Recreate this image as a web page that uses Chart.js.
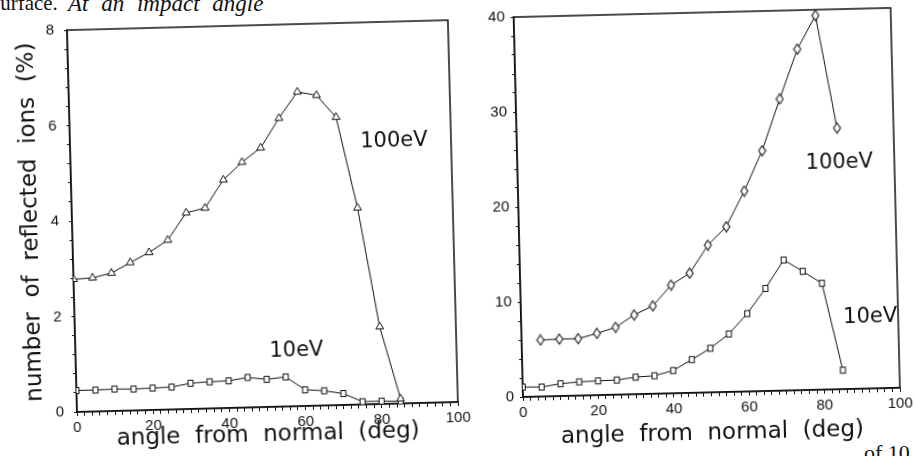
<!DOCTYPE html>
<html>
<head>
<meta charset="utf-8">
<script src="https://cdn.jsdelivr.net/npm/chart.js@4.4.1/dist/chart.umd.min.js"></script>
<style>
  body { margin: 0; background: #fff; width: 915px; height: 456px; overflow: hidden; position: relative; }
  .panel { position: absolute; top: 0; height: 456px; }
  #leftPanel { left: 0; width: 480px; transform-origin: 77px 412px; transform: rotate(-1.5deg); }
  #rightPanel { left: 465px; width: 450px; transform-origin: 58px 397px; transform: rotate(-1.4deg); }
  .scan { position: absolute; font-family: "Liberation Serif", serif; white-space: pre; color: #111; }
</style>
</head>
<body>
<div class="scan" style="left:-8px; top:-7px; font-size:21px; line-height:21px;">surface.</div>
<div class="scan" style="left:68px; top:-8px; font-size:23px; line-height:23px; font-style:italic; word-spacing:7px;">At an impact angle</div>
<div class="scan" style="left:864px; top:442px; font-size:22px; line-height:22px;">of 10 eV</div>
<div class="panel" id="leftPanel"><canvas id="leftChart" width="480" height="456"></canvas></div>
<div class="panel" id="rightPanel"><canvas id="rightChart" width="450" height="456"></canvas></div>
<script>
// angles (deg)
var angles = [0, 5, 10, 15, 20, 25, 30, 35, 40, 45, 50, 55, 60, 65, 70, 75, 80, 85];
var anglesFrom5 = [5, 10, 15, 20, 25, 30, 35, 40, 45, 50, 55, 60, 65, 70, 75, 80, 85];

// left panel: reflected ions (%)
var left100eV = [2.78, 2.8, 2.89, 3.1, 3.3, 3.55, 4.11, 4.2, 4.78, 5.14, 5.43, 6.04, 6.58, 6.5, 6.03, 4.12, 1.62, 0.1];
var left10eV = [0.45, 0.45, 0.46, 0.45, 0.46, 0.47, 0.54, 0.56, 0.57, 0.63, 0.58, 0.62, 0.34, 0.31, 0.24, 0.06, 0.06, 0.05];

// right panel
var right100eV = [5.95, 6.0, 6.0, 6.5, 7.1, 8.35, 9.25, 11.4, 12.6, 15.5, 17.4, 21.1, 25.3, 30.7, 35.9, 39.4, 27.5];
var right10eV = [1.05, 1.0, 1.3, 1.45, 1.5, 1.55, 1.8, 1.9, 2.4, 3.5, 4.65, 6.1, 8.2, 10.8, 13.75, 12.5, 11.2, 2.0];

var xTickLabels = [0, 20, 40, 60, 80, 100];
var leftYTickLabels = [0, 2, 4, 6, 8];
var rightYTickLabels = [0, 10, 20, 30, 40];

var INK = "#111";
var TITLE_FONT = "'DejaVu Sans', sans-serif";
var TICK_FONT = "'Liberation Sans', sans-serif";

function pts(xs, ys) {
  return xs.map(function (x, i) { return { x: x, y: ys[i] }; });
}

// open markers drawn on small canvases
function diamond(w, h) {
  var c = document.createElement("canvas");
  c.width = w + 2; c.height = h + 2;
  var g = c.getContext("2d");
  g.beginPath();
  g.moveTo(c.width / 2, 1);
  g.lineTo(c.width - 1, c.height / 2);
  g.lineTo(c.width / 2, c.height - 1);
  g.lineTo(1, c.height / 2);
  g.closePath();
  g.fillStyle = "#fff"; g.fill();
  g.strokeStyle = INK; g.lineWidth = 1.1; g.stroke();
  return c;
}
function box(w, h) {
  var c = document.createElement("canvas");
  c.width = w + 2; c.height = h + 2;
  var g = c.getContext("2d");
  g.fillStyle = "#fff"; g.fillRect(1, 1, w, h);
  g.strokeStyle = INK; g.lineWidth = 1; g.strokeRect(1.5, 1.5, w - 1, h - 1);
  return c;
}

// frame round the plot + curve labels
var framePlugin = {
  id: "frameAndLabels",
  beforeDatasetsDraw: function (chart) {
    var a = chart.chartArea, ctx = chart.ctx;
    ctx.save();
    ctx.strokeStyle = INK;
    ctx.lineWidth = 1.5;
    ctx.strokeRect(a.left, a.top, a.right - a.left, a.bottom - a.top);
    ctx.restore();
  },
  afterDatasetsDraw: function (chart, args, opts) {
    var ctx = chart.ctx, x = chart.scales.x, y = chart.scales.y;
    ctx.save();
    ctx.fillStyle = INK;
    ctx.font = "21px " + TITLE_FONT;
    ctx.textAlign = "center";
    ctx.textBaseline = "middle";
    (opts.items || []).forEach(function (it) {
      ctx.fillText(it.text, x.getPixelForValue(it.x), y.getPixelForValue(it.y));
    });
    ctx.restore();
  }
};

function onlyLabels(list) {
  return function (v) {
    for (var i = 0; i < list.length; i++) {
      if (Math.abs(v - list[i]) < 1e-6) return String(list[i]);
    }
    return "";
  };
}

function makeChart(id, cfg) {
  return new Chart(document.getElementById(id), {
    type: "line",
    data: { datasets: cfg.datasets },
    plugins: [framePlugin],
    options: {
      responsive: false,
      animation: false,
      layout: { padding: { top: cfg.padTop, right: cfg.padRight, left: 0, bottom: 0 } },
      elements: { line: { borderWidth: 1, borderColor: INK, tension: 0 } },
      plugins: {
        legend: { display: false },
        tooltip: { enabled: false },
        frameAndLabels: { items: cfg.labels }
      },
      scales: {
        x: {
          type: "linear", min: 0, max: 100,
          ticks: { stepSize: 2, autoSkip: false, maxRotation: 0, padding: 3, color: INK,
                   font: { family: TICK_FONT, size: 15 }, callback: onlyLabels(xTickLabels) },
          grid: { drawOnChartArea: false, tickLength: 4, color: INK, lineWidth: 1 },
          border: { color: INK, width: 1.5 },
          title: { display: true, text: "angle  from  normal  (deg)", color: INK,
                   font: { family: TITLE_FONT, size: 23 }, padding: { top: 0, bottom: cfg.xTitlePad } },
          afterFit: function (s) { s.height = cfg.xHeight; s.paddingLeft = 0; s.paddingRight = 0; }
        },
        y: {
          type: "linear", min: 0, max: cfg.yMax,
          ticks: { stepSize: cfg.yStep, autoSkip: false, padding: cfg.yTickPad, color: INK,
                   font: { family: TICK_FONT, size: 15 }, callback: onlyLabels(cfg.yLabels) },
          grid: { drawOnChartArea: false, tickLength: 3, color: INK, lineWidth: 1 },
          border: { color: INK, width: 1.5 },
          title: cfg.yTitle ? { display: true, text: cfg.yTitle, color: INK,
                   font: { family: TITLE_FONT, size: 23 }, padding: { top: 22, bottom: 0 } } : { display: false },
          afterFit: function (s) { s.width = cfg.yWidth; s.paddingTop = 0; s.paddingBottom = 0; }
        }
      }
    }
  });
}

var sq = box(6, 7);
var dm = diamond(7, 10);

makeChart("leftChart", {
  padTop: 30, padRight: 22, xHeight: 44, xTitlePad: 2, yWidth: 77, yTickPad: 10,
  yMax: 8, yStep: 0.4, yLabels: leftYTickLabels,
  yTitle: "number  of  reflected  ions  (%)",
  labels: [{ text: "100eV", x: 85, y: 5.5 }, { text: "10eV", x: 58, y: 1.17 }],
  datasets: [
    { data: pts(angles, left100eV), borderColor: INK, pointStyle: "triangle", pointRadius: 4.5,
      pointBorderWidth: 1, pointBorderColor: INK, pointBackgroundColor: "#fff" },
    { data: pts(angles, left10eV), borderColor: INK, pointStyle: sq, pointRadius: 4,
      pointBorderColor: INK, pointBackgroundColor: "#fff" }
  ]
});

makeChart("rightChart", {
  padTop: 17, padRight: 15, xHeight: 59, xTitlePad: 4, yWidth: 58, yTickPad: 6,
  yMax: 40, yStep: 2, yLabels: rightYTickLabels,
  yTitle: null,
  labels: [{ text: "100eV", x: 85.4, y: 23.8 }, { text: "10eV", x: 92.6, y: 7.5 }],
  datasets: [
    { data: pts(anglesFrom5, right100eV), borderColor: INK, pointStyle: dm, pointRadius: 5,
      pointBorderColor: INK, pointBackgroundColor: "#fff" },
    { data: pts(angles, right10eV), borderColor: INK, pointStyle: sq, pointRadius: 4,
      pointBorderColor: INK, pointBackgroundColor: "#fff" }
  ]
});
</script>
</body>
</html>
